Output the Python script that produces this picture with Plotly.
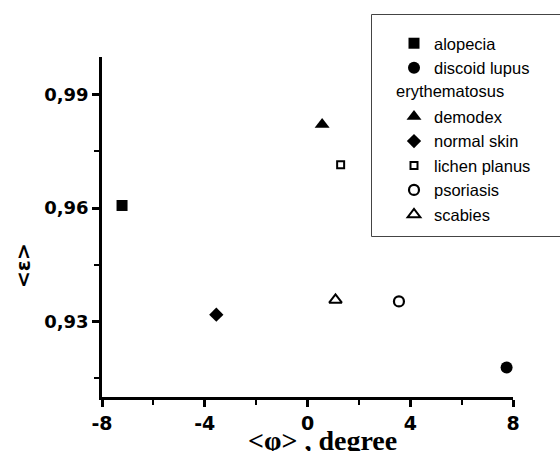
import plotly.graph_objects as go

# ---- data ----
diseases = ["alopecia", "discoid lupus", "demodex", "normal skin",
            "lichen planus", "psoriasis", "scabies"]
phi_mean = [-7.22, 7.75, 0.57, -3.55, 1.29, 3.56, 1.09]      # <φ>, degree
eps_mean = [0.9607, 0.9178, 0.9821, 0.9318, 0.9715, 0.9353, 0.9357]  # <ε>
x_ticks = [-8, -4, 0, 4, 8]
y_ticks = [0.93, 0.96, 0.99]
y_tick_text = ["0,93", "0,96", "0,99"]

# ---- styles ----
styles = {
    "alopecia": dict(symbol="square", size=11, lw=0),
    "discoid lupus": dict(symbol="circle", size=12, lw=0),
    "demodex": dict(symbol="triangle-up", size=13, lw=0),
    "normal skin": dict(symbol="diamond", size=11, lw=0),
    "lichen planus": dict(symbol="square-open", size=7, lw=2),
    "psoriasis": dict(symbol="circle-open", size=10, lw=2.2),
    "scabies": dict(symbol="triangle-up-open", size=11, lw=2),
}

fig = go.Figure()
for i, (name, xv, yv) in enumerate(zip(diseases, phi_mean, eps_mean)):
    st = styles[name]
    fig.add_trace(go.Scatter(
        x=[xv], y=[yv], mode="markers", name=name,
        legendgroup=f"g{i}",
        marker=dict(symbol=st["symbol"], size=st["size"], color="black",
                    line=dict(color="black", width=st["lw"])),
    ))
    if name == "discoid lupus":
        # blank legend row for the wrapped second line of the label
        fig.add_trace(go.Scatter(x=[None], y=[None], mode="none", name=" ",
                                 legendgroup="g_wrap", hoverinfo="skip"))

L, R, T, B = 102, 47, 57, 54
W, H = 560, 451
pw, ph = W - L - R, H - T - B

def px2paper_x(px):
    return (px - L) / pw

def px2paper_y(py):
    return (H - B - py) / ph

fig.update_layout(
    width=W, height=H,
    margin=dict(l=L, r=R, t=T, b=B, autoexpand=False),
    paper_bgcolor="white", plot_bgcolor="white",
    showlegend=True,
    legend=dict(
        x=px2paper_x(374), y=px2paper_y(26), xanchor="left", yanchor="top",
        bgcolor="rgba(0,0,0,0)", borderwidth=0,
        font=dict(family="Liberation Sans, Arial, sans-serif", size=16.5, color="black"),
        traceorder="grouped", tracegroupgap=0, indentation=20,
        itemsizing="trace",
    ),
    xaxis=dict(
        range=[-8, 8], tickmode="array", tickvals=x_ticks,
        ticktext=[str(v) for v in x_ticks],
        showgrid=False, zeroline=False, showline=True, linecolor="black", linewidth=2.5,
        ticks="outside", ticklen=7, tickwidth=2.5, tickcolor="black",
        minor=dict(tickvals=[-6, -2, 2, 6], ticks="outside", ticklen=5, tickwidth=2,
                   tickcolor="black", showgrid=False),
        tickfont=dict(family="DejaVu Sans", size=19, color="black", weight="bold"),
    ),
    yaxis=dict(
        range=[0.91, 1.0], tickmode="array", tickvals=y_ticks, ticktext=y_tick_text,
        showgrid=False, zeroline=False, showline=True, linecolor="black", linewidth=2.5,
        ticks="outside", ticklen=7, tickwidth=2.5, tickcolor="black",
        minor=dict(tickvals=[0.915, 0.945, 0.975], ticks="outside", ticklen=5, tickwidth=2,
                   tickcolor="black", showgrid=False),
        tickfont=dict(family="DejaVu Sans", size=18, color="black", weight="bold"),
    ),
    shapes=[dict(type="rect", xref="paper", yref="paper",
                 x0=px2paper_x(371.5), x1=px2paper_x(575),
                 y0=px2paper_y(236.5), y1=px2paper_y(14.5),
                 line=dict(color="#444", width=1), fillcolor="rgba(0,0,0,0)", layer="below")],
    annotations=[
        dict(text="erythematosus", xref="paper", yref="paper",
             x=px2paper_x(394), y=px2paper_y(91), xanchor="left", yanchor="middle",
             showarrow=False,
             font=dict(family="Liberation Sans, Arial, sans-serif", size=16.5, color="black")),
        # x-axis title
        dict(text="<φ> , degree", xref="paper", yref="paper",
             x=px2paper_x(322), y=px2paper_y(440), xanchor="center", yanchor="middle",
             showarrow=False,
             font=dict(family="Liberation Serif, Times New Roman, serif", size=28,
                       color="black", weight="bold")),
        # y-axis title
        dict(text="<ε>", xref="paper", yref="paper", textangle=-90,
             x=px2paper_x(23), y=px2paper_y(266), xanchor="center", yanchor="middle",
             showarrow=False,
             font=dict(family="DejaVu Sans", size=20, color="black", weight="bold")),
    ],
)

fig.write_html("out.html")
